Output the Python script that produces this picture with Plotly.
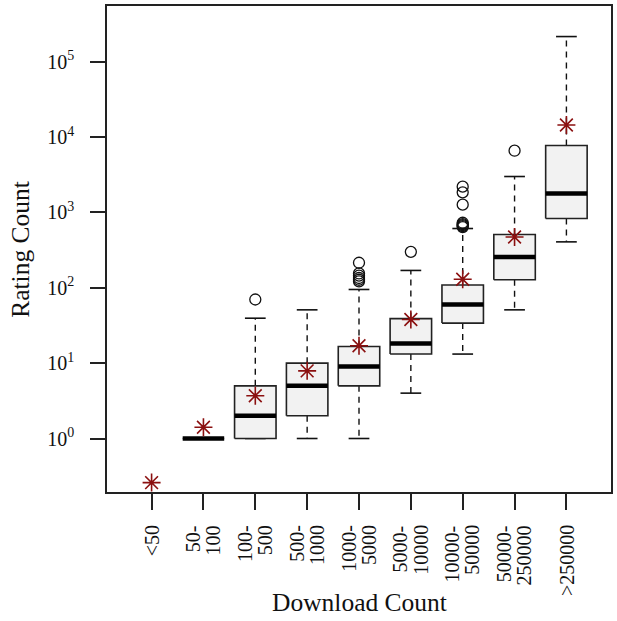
import plotly.graph_objects as go

# ---- data ----
categories = ["<50", "50-\n100", "100-\n500", "500-\n1000", "1000-\n5000",
              "5000-\n10000", "10000-\n50000", "50000-\n250000", ">250000"]
positions = [1, 2, 3, 4, 5, 6, 7, 8, 9]
q1 = [None, 1, 1, 2, 5, 13.2, 34, 128, 830]
median = [None, 1, 2, 5, 9, 18.2, 60, 256, 1780]
q3 = [None, 1, 5, 10, 16.6, 39, 109, 510, 7750]
whisker_lo = [None, 1, 1, 1, 1, 4, 13.2, 51, 407]
whisker_hi = [None, 1, 39.5, 51, 95, 170, 612, 3000, 216000]
means = [0.26, 1.41, 3.7, 7.9, 17, 38, 130, 472, 14500]
outliers = {
    3: [70],
    5: [215, 155, 145, 135, 128, 122],
    6: [300],
    7: [2200, 1850, 1270, 730, 700, 680, 660, 640],
    8: [6600],
}
ytick_vals = [1, 10, 100, 1000, 10000, 100000]
ytick_text = ["10<sup>0</sup>", "10<sup>1</sup>", "10<sup>2</sup>",
              "10<sup>3</sup>", "10<sup>4</sup>", "10<sup>5</sup>"]

BOXW = 0.4   # half box width
CAPW = 0.2   # half cap width

box_x, box_y, med_x, med_y = [], [], [], []
wh_x, wh_y, cap_x, cap_y = [], [], [], []
for p, a, m, b, lo, hi in zip(positions, q1, median, q3, whisker_lo, whisker_hi):
    if a is None:
        continue
    box_x += [p - BOXW, p + BOXW, p + BOXW, p - BOXW, p - BOXW, None]
    box_y += [a, a, b, b, a, None]
    med_x += [p - BOXW, p + BOXW, None]
    med_y += [m, m, None]
    if hi > b:
        wh_x += [p, p, None]
        wh_y += [b, hi, None]
    if lo < a:
        wh_x += [p, p, None]
        wh_y += [a, lo, None]
    cap_x += [p - CAPW, p + CAPW, None, p - CAPW, p + CAPW, None]
    cap_y += [hi, hi, None, lo, lo, None]

out_x, out_y = [], []
for p, vals in outliers.items():
    out_x += [p] * len(vals)
    out_y += vals

fig = go.Figure()
fig.add_trace(go.Scatter(x=wh_x, y=wh_y, mode="lines",
                         line=dict(color="#111", width=1.4, dash="6px,5px"),
                         hoverinfo="skip"))
fig.add_trace(go.Scatter(x=cap_x, y=cap_y, mode="lines",
                         line=dict(color="#111", width=1.6), hoverinfo="skip"))
fig.add_trace(go.Scatter(x=box_x, y=box_y, mode="lines", fill="toself",
                         fillcolor="#F2F2F2", line=dict(color="#222", width=1.6),
                         hoverinfo="skip"))
fig.add_trace(go.Scatter(x=med_x, y=med_y, mode="lines",
                         line=dict(color="#000", width=4.5), hoverinfo="skip"))
fig.add_trace(go.Scatter(x=out_x, y=out_y, mode="markers",
                         marker=dict(symbol="circle-open", size=11, color="#111",
                                     line=dict(width=1.3, color="#111"))))
fig.add_trace(go.Scatter(x=positions, y=means, mode="markers",
                         marker=dict(symbol="asterisk-open", size=15, color="#8B1010",
                                     line=dict(width=1.6, color="#8B1010"))))

font_fam = "Liberation Serif, Times New Roman, serif"
tick_font = dict(size=20, family=font_fam, color="#111")

# x tick labels: rotated, each line of a category label as its own text column
annotations = []
for p, lab in zip(positions, categories):
    lines = lab.split("\n")
    offsets = [0.0] if len(lines) == 1 else [-0.21, 0.19]
    for off, line in zip(offsets, lines):
        annotations.append(dict(
            text=line.replace("<", "&lt;").replace(">", "&gt;"),
            xref="x", yref="paper", x=p + off, y=-0.066,
            xanchor="center", yanchor="top", textangle=-90, showarrow=False,
            font=tick_font, borderpad=0))

annotations += [
    dict(text="Download Count", xref="paper", yref="paper", x=0.5, y=-0.2275,
         xanchor="center", yanchor="middle", showarrow=False,
         font=dict(size=25.5, family=font_fam, color="#111")),
    dict(text="Rating Count", xref="paper", yref="paper", x=-0.173, y=0.5,
         xanchor="center", yanchor="middle", textangle=-90, showarrow=False,
         font=dict(size=25.5, family=font_fam, color="#111")),
]

fig.update_layout(
    width=617, height=621,
    margin=dict(l=107, r=4, t=4, b=129),
    paper_bgcolor="white", plot_bgcolor="white",
    showlegend=False,
    font=dict(family=font_fam, color="#111"),
    xaxis=dict(range=[0.14, 9.86], tickvals=positions, showticklabels=False,
               ticks="outside", ticklen=16, tickwidth=1.5,
               tickcolor="#222", showline=True, mirror=True, linecolor="#222",
               linewidth=1.5, showgrid=False, zeroline=False),
    yaxis=dict(type="log", range=[-0.71, 5.74], tickvals=ytick_vals,
               ticktext=ytick_text, ticks="outside", ticklen=15, tickwidth=1.5,
               tickcolor="#222", showline=True, mirror=True, linecolor="#222",
               linewidth=1.5, showgrid=False, zeroline=False,
               tickfont=tick_font, ticklabelstandoff=12),
    annotations=annotations,
)
fig.write_html("out.html", config={"displayModeBar": False},
               post_script="document.body.style.margin='0';document.body.style.padding='0';")
